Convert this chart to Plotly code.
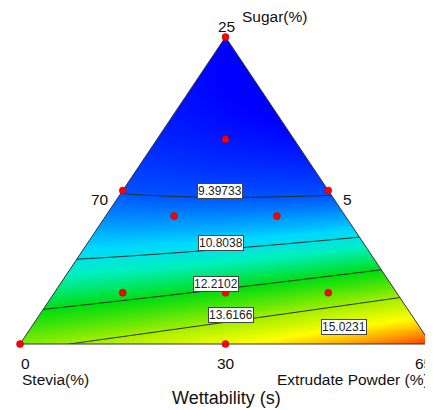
import numpy as np
import plotly.graph_objects as go

# ---- data: design points (pseudo fractions: top=Sugar, left=Stevia, right=Extrudate) ----
pt_top = [1, 0, 0, 0.5, 0.5, 0, 1/3, 2/3, 1/6, 1/6, 5/12, 5/12, 1/6]
pt_left = [0, 1, 0, 0.5, 0, 0.5, 1/3, 1/6, 2/3, 1/6, 5/12, 1/6, 5/12]
pt_right = [0, 0, 1, 0, 0.5, 0.5, 1/3, 1/6, 1/6, 2/3, 1/6, 5/12, 5/12]
wettability = [7.99, 13.36, 16.43, 9.30, 9.25, 14.72, 10.56, 8.6, 11.92, 12.86, 9.83, 9.88, 12.30]

contour_levels = [9.39733, 10.8038, 12.2102, 13.6166, 15.0231]
label_text = ["9.39733", "10.8038", "12.2102", "13.6166", "15.0231"]
label_xpx = [220, 221, 216, 231, 344]

# page body has an 8px margin: figure is placed so the reference pixel frame matches
OFF = 8
W, H = 433 - OFF, 410 - OFF
LX, RX, TOPY, BOTY = 20 - OFF, 431 - OFF, 37 - OFF, 344 - OFF  # triangle pixel frame


def terms(t, l, r):
    return np.stack([t, l, r, t * l, t * r, l * r], axis=-1)


A = terms(np.array(pt_top), np.array(pt_left), np.array(pt_right))
coef, *_ = np.linalg.lstsq(A, np.array(wettability), rcond=None)


def model(x, y):
    t = y
    r = x - 0.5 * y
    l = 1 - t - r
    return terms(t, l, r) @ coef


sx = RX - LX
sy = BOTY - TOPY
x0 = -LX / sx
x1 = x0 + W / sx
y0 = -(H - BOTY) / sy
y1 = y0 + H / sy

gx = np.linspace(-0.01, 1.01, 420)
gy = np.linspace(-0.01, 1.01, 330)
XX, YY = np.meshgrid(gx, gy)
ZZ = model(XX, YY)

zmin = contour_levels[0] - (contour_levels[1] - contour_levels[0])
zmax = contour_levels[-1] + (contour_levels[1] - contour_levels[0])

cscale = [
    [0.0, "#0000ff"], [0.16, "#0050ff"], [0.30, "#00d8ff"], [0.38, "#00f0c0"],
    [0.5, "#00dd10"], [0.66, "#a0ee00"], [0.8, "#ffff00"], [0.9, "#ffa000"],
    [1.0, "#ff2a00"],
]

fig = go.Figure()
fig.add_trace(go.Heatmap(x=gx, y=gy, z=ZZ, colorscale=cscale, zmin=zmin, zmax=zmax,
                         zsmooth="best", showscale=False, hoverinfo="skip"))
fig.add_trace(go.Contour(x=gx, y=gy, z=ZZ, showscale=False, hoverinfo="skip",
                         contours=dict(start=contour_levels[0], end=contour_levels[-1] + 1e-6,
                                       size=contour_levels[1] - contour_levels[0],
                                       coloring="lines", showlabels=False),
                         colorscale=[[0, "#2a2a2a"], [1, "#2a2a2a"]],
                         line=dict(width=1, smoothing=1.0)))

# white masks outside the triangle
masks = [
    ([0, 0.5, 0.5, -0.2, -0.2, 0], [0, 1, 1.2, 1.2, 0, 0]),
    ([1, 0.5, 0.5, 1.2, 1.2, 1], [0, 1, 1.2, 1.2, 0, 0]),
    ([-0.2, 1.2, 1.2, -0.2, -0.2], [0, 0, -0.2, -0.2, 0]),
]
for mx, my in masks:
    fig.add_trace(go.Scatter(x=mx, y=my, fill="toself", fillcolor="white", mode="none",
                             hoverinfo="skip", showlegend=False))

# triangle outline
fig.add_trace(go.Scatter(x=[0, 1, 0.5, 0], y=[0, 0, 1, 0], mode="lines",
                         line=dict(color="#333333", width=1), hoverinfo="skip", showlegend=False))

# design points
px_x = np.array(pt_right) + 0.5 * np.array(pt_top)
px_y = np.array(pt_top)
fig.add_trace(go.Scatter(x=px_x, y=px_y, mode="markers",
                         marker=dict(color="#ff0000", size=7, line=dict(color="#b00000", width=0.5)),
                         hoverinfo="skip", showlegend=False, cliponaxis=False))

annotations = []
# contour labels
for lev, txt, lx in zip(contour_levels, label_text, label_xpx):
    xd = (lx - OFF - LX) / sx
    ys = np.linspace(0, 1, 4001)
    vals = model(np.full_like(ys, xd), ys)
    idx = np.argmin(np.abs(vals - lev))
    annotations.append(dict(x=xd, y=ys[idx], xref="x", yref="y", text=txt, showarrow=False,
                            yshift=6, font=dict(family="Liberation Sans, Arial", size=12, color="#222"),
                            bgcolor="white", bordercolor="#444", borderwidth=1, borderpad=0))


def ptext(txt, px, py, size, xanchor="center"):
    annotations.append(dict(x=(px - OFF) / W, y=1 - (py - OFF) / H, xref="paper", yref="paper",
                            text=txt, showarrow=False, xanchor=xanchor, yanchor="middle",
                            font=dict(family="Liberation Sans, Arial", size=size, color="#111")))


ptext("Sugar(%)", 240, 16, 15.5, "left")
ptext("25", 226, 27, 15.5)
ptext("70", 111, 199, 15.5, "right")
ptext("5", 341, 199, 15.5, "left")
ptext("0", 19, 363, 15.5, "left")
ptext("30", 226, 363, 15.5)
ptext("65", 413, 363, 15.5, "left")
ptext("Stevia(%)", 20, 379, 15.5, "left")
ptext("Extrudate Powder (%)", 431, 379, 15.5, "right")
ptext("Wettability (s)", 226, 398, 18)

fig.update_layout(
    width=W, height=H, margin=dict(l=0, r=0, t=0, b=0),
    paper_bgcolor="white", plot_bgcolor="white", showlegend=False,
    xaxis=dict(range=[x0, x1], visible=False, fixedrange=True),
    yaxis=dict(range=[y0, y1], visible=False, fixedrange=True),
    annotations=annotations,
)

fig.write_html("out.html")
